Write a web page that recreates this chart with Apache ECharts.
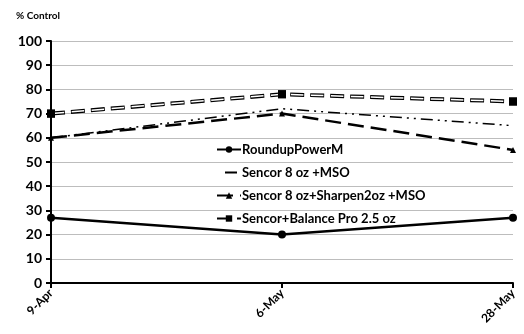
<!DOCTYPE html>
<html><head><meta charset="utf-8">
<script src="https://cdn.jsdelivr.net/npm/echarts@6/dist/echarts.min.js"></script>
<style>html,body{margin:0;padding:0;background:#fff}#c{width:524px;height:334px}</style>
</head><body><div id="c"></div>
<script>
const categories = ['9-Apr', '6-May', '28-May'];
const roundup = [27, 20, 27];
const sencorMSO = [60, 72, 65];
const sencorSharpen = [60, 70, 55];
const sencorBalance = [70, 78, 75];
const yTicks = [0, 10, 20, 30, 40, 50, 60, 70, 80, 90, 100];

const F = 'Lato, "Open Sans", sans-serif';
const chart = echarts.init(document.getElementById('c'));
chart.setOption({
  animation: false,
  backgroundColor: '#fff',
  title: { text: '% Control', left: 11, top: 6, textStyle: { fontFamily: F, fontSize: 10, fontWeight: 'bold', color: '#000' } },
  grid: { left: 51, right: 11, top: 41, bottom: 51 },
  legend: {
    orient: 'vertical', left: 211, top: 138, itemGap: 10, itemWidth: 24, itemHeight: 8,
    data: [
      { name: 'RoundupPowerM' },
      { name: 'Sencor 8 oz +MSO', itemStyle: { color: 'rgba(0,0,0,0)', borderWidth: 0, opacity: 0 },
        lineStyle: { type: [0, 8, 12, 30], width: 2, color: '#000' } },
      { name: 'Sencor 8 oz+Sharpen2oz +MSO' },
      { name: 'Sencor+Balance Pro 2.5 oz' }
    ],
    textStyle: { fontFamily: F, fontSize: 13, fontWeight: 'bold', color: '#000', padding: [0, 0, 0, -4] }
  },
  xAxis: {
    type: 'category', data: categories, boundaryGap: false,
    axisLine: { lineStyle: { color: '#000', width: 2 } },
    axisTick: { show: true, alignWithLabel: true, length: 5, lineStyle: { color: '#000', width: 2 } },
    axisLabel: { rotate: 45, fontFamily: F, fontSize: 12, fontWeight: 'bold', color: '#000', margin: 8, interval: 0 },
    splitLine: { show: false }
  },
  yAxis: {
    type: 'value', min: yTicks[0], max: yTicks[yTicks.length - 1], interval: 10,
    axisLine: { show: true, lineStyle: { color: '#000', width: 2 } },
    axisTick: { show: true, length: 5, lineStyle: { color: '#000', width: 2 } },
    axisLabel: { fontFamily: F, fontSize: 14, fontWeight: 'bold', color: '#000', margin: 9 },
    splitLine: { lineStyle: { color: '#bdbdbd', width: 1 } }
  },
  series: [
    { name: 'RoundupPowerM', type: 'line', data: roundup, symbol: 'circle', symbolSize: 8,
      itemStyle: { color: '#000' }, lineStyle: { color: '#000', width: 2.5 }, z: 5 },
    { name: 'Sencor 8 oz +MSO', type: 'line', data: sencorMSO, symbol: 'none',
      itemStyle: { color: '#000' }, lineStyle: { color: '#000', width: 1.5, type: [12, 5, 2, 5, 2, 5] }, z: 3 },
    { name: 'Sencor 8 oz+Sharpen2oz +MSO', type: 'line', data: sencorSharpen, symbol: 'triangle', symbolSize: 6,
      itemStyle: { color: '#000' }, lineStyle: { color: '#000', width: 2.5, type: [16, 7] }, z: 4 },
    { name: 'Sencor+Balance Pro 2.5 oz', type: 'line', data: sencorBalance, symbol: 'rect', symbolSize: 8,
      itemStyle: { color: '#000' }, lineStyle: { color: '#000', width: 4, type: [14, 6] }, z: 3 },
    { name: 'Balance inner', type: 'line', data: sencorBalance, symbol: 'none', silent: true,
      lineStyle: { color: '#fff', width: 1.5, type: [12.5, 7.5], dashOffset: -0.75 }, z: 3.5 },
    { name: 'Balance marks', type: 'line', data: sencorBalance, symbol: 'rect', symbolSize: 8,
      itemStyle: { color: '#000' }, lineStyle: { width: 0 }, z: 6 }
  ]
});
</script></body></html>
